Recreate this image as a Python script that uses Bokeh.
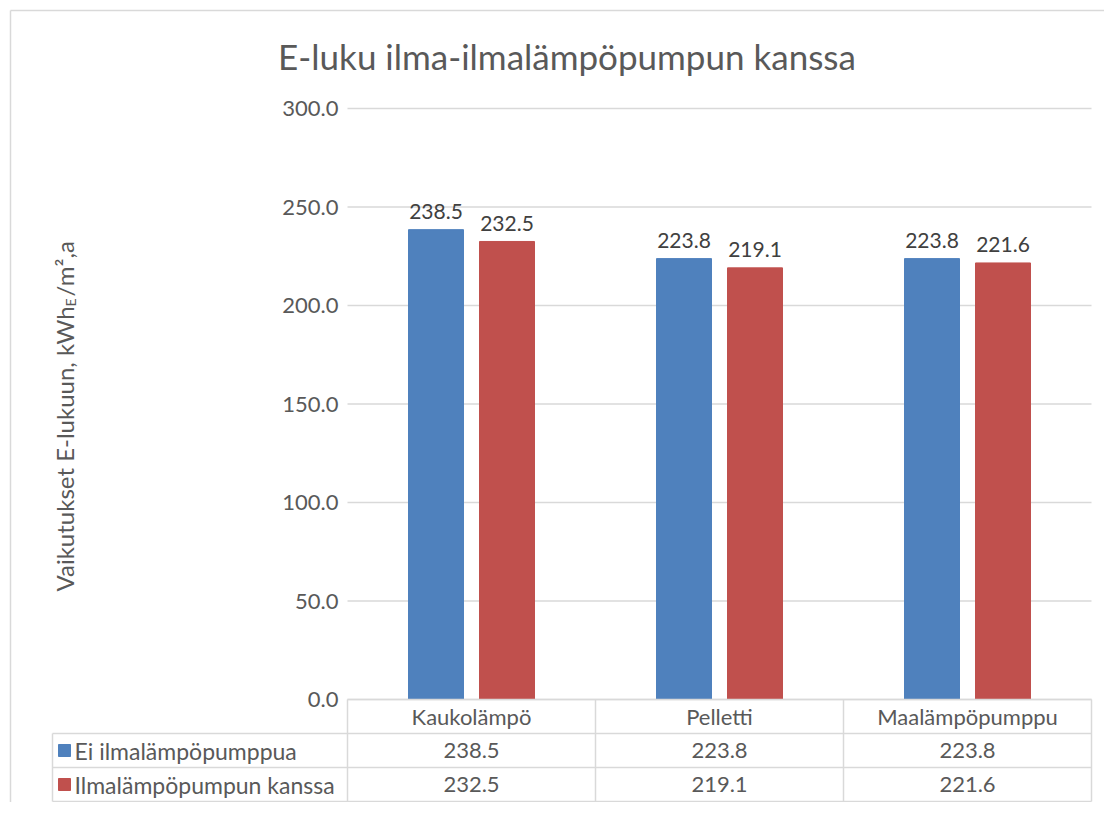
import numpy as np
from bokeh.plotting import figure
from bokeh.models import Range1d
from bokeh.core.properties import value
from bokeh.embed import file_html
from bokeh.resources import INLINE

# ---- data ----
categories = ["Kaukolämpö", "Pelletti", "Maalämpöpumppu"]
series_names = ["Ei ilmalämpöpumppua", "Ilmalämpöpumpun kanssa"]
ei_ilp = [238.5, 223.8, 223.8]
ilp_kanssa = [232.5, 219.1, 221.6]
y_ticks = [0, 50, 100, 150, 200, 250, 300]
title_text = "E-luku ilma-ilmalämpöpumpun kanssa"
ylabel_main = "Vaikutukset E-lukuun, kWh"
ylabel_sub = "E"
ylabel_rest = "/m²,a"

# ---- styling ----
colors = ["#4F81BD", "#C0504D"]
txt = "#595959"
lbl = "#404040"
linec = "#D9D9D9"
FONT = value("Lato")
FS = "22px"

W, H = 1104, 802


def X(px):
    return (px - 347) / 248.0


def Y(py):
    return (699 - py) * 300.0 / 591.0


p = figure(width=W, height=H,
           x_range=Range1d(X(0), X(W)), y_range=Range1d(Y(H), Y(0)),
           output_backend="svg", toolbar_location=None, min_border=0,
           x_axis_location=None, y_axis_location=None,
           outline_line_color=None, background_fill_color="white",
           border_fill_color="white")
p.grid.grid_line_color = None

n = len(categories)
centers = np.arange(n) + 0.5
off = 35.5 / 248.0
bw = 55 / 248.0

# frame border (top & left)
p.segment(x0=[X(10), X(10)], y0=[Y(10), Y(10)], x1=[X(1130), X(10)], y1=[Y(10), Y(830)],
          line_color=linec, line_width=1.5)

# gridlines
p.segment(x0=X(347), x1=X(1091), y0=y_ticks, y1=y_ticks, line_color=linec, line_width=1.3)

# bars
p.vbar(x=centers - off, top=ei_ilp, bottom=0, width=bw, fill_color=colors[0], line_color=colors[0])
p.vbar(x=centers + off, top=ilp_kanssa, bottom=0, width=bw, fill_color=colors[1], line_color=colors[1])

# data labels
p.text(x=centers - off, y=ei_ilp, text=[f"{v:.1f}" for v in ei_ilp], text_align="center",
       text_baseline="alphabetic", y_offset=-18, text_font=FONT, text_font_size="21px", text_color=lbl)
p.text(x=centers + off, y=ilp_kanssa, text=[f"{v:.1f}" for v in ilp_kanssa], text_align="center",
       text_baseline="alphabetic", y_offset=-18, text_font=FONT, text_font_size="21px", text_color=lbl)

# y tick labels
p.text(x=X(338), y=y_ticks, text=[f"{t:.1f}" for t in y_ticks], text_align="right",
       text_baseline="middle", text_font=FONT, text_font_size=FS, text_color=txt)

# title
p.text(x=[X(566.5)], y=[Y(55)], text=[title_text], text_align="center", text_baseline="middle",
       text_font=FONT, text_font_size="35px", text_color=txt)

# y axis label (rotated, in pieces for the subscript)
lab_x = X(64)
y0 = 591
L1 = 285
p.text(x=[lab_x], y=[Y(y0)], text=[ylabel_main], angle=np.pi / 2, text_align="left",
       text_baseline="middle", text_font=FONT, text_font_size="24px", text_color=txt)
p.text(x=[lab_x], y=[Y(y0 - L1)], text=[ylabel_sub], angle=np.pi / 2, text_align="left",
       text_baseline="middle", x_offset=6, text_font=FONT, text_font_size="14px", text_color=txt)
p.text(x=[lab_x], y=[Y(y0 - L1 - 10)], text=[ylabel_rest], angle=np.pi / 2, text_align="left",
       text_baseline="middle", text_font=FONT, text_font_size="24px", text_color=txt)

# data table
rows = [699, 733, 767, 801]
vx = [X(347), X(595), X(843), X(1091)]
tl = X(52)
# horizontal lines
p.segment(x0=[vx[0], tl, tl, tl], x1=[vx[-1]] * 4, y0=[Y(r) for r in rows], y1=[Y(r) for r in rows],
          line_color=linec, line_width=1.5)
# vertical lines
p.segment(x0=vx + [tl], x1=vx + [tl], y0=[Y(rows[0])] * 4 + [Y(rows[1])], y1=[Y(rows[-1])] * 5,
          line_color=linec, line_width=1.5)
# header (categories)
hy = Y((rows[0] + rows[1]) / 2)
p.text(x=centers, y=[hy] * n, text=categories, text_align="center", text_baseline="middle",
       text_font=FONT, text_font_size=FS, text_color=txt)
for k, (vals, name) in enumerate(zip([ei_ilp, ilp_kanssa], series_names)):
    ry = Y((rows[k + 1] + rows[k + 2]) / 2)
    p.text(x=centers, y=[ry] * n, text=[f"{v:.1f}" for v in vals], text_align="center",
           text_baseline="middle", text_font=FONT, text_font_size=FS, text_color=txt)
    p.scatter(x=[X(64)], y=[ry], marker="square", size=12, fill_color=colors[k], line_color=colors[k])
    p.text(x=[X(74)], y=[ry], text=[name], text_align="left", text_baseline="middle",
           text_font=FONT, text_font_size="23px", text_color=txt)

open("out.html", "w").write(file_html(p, INLINE))
